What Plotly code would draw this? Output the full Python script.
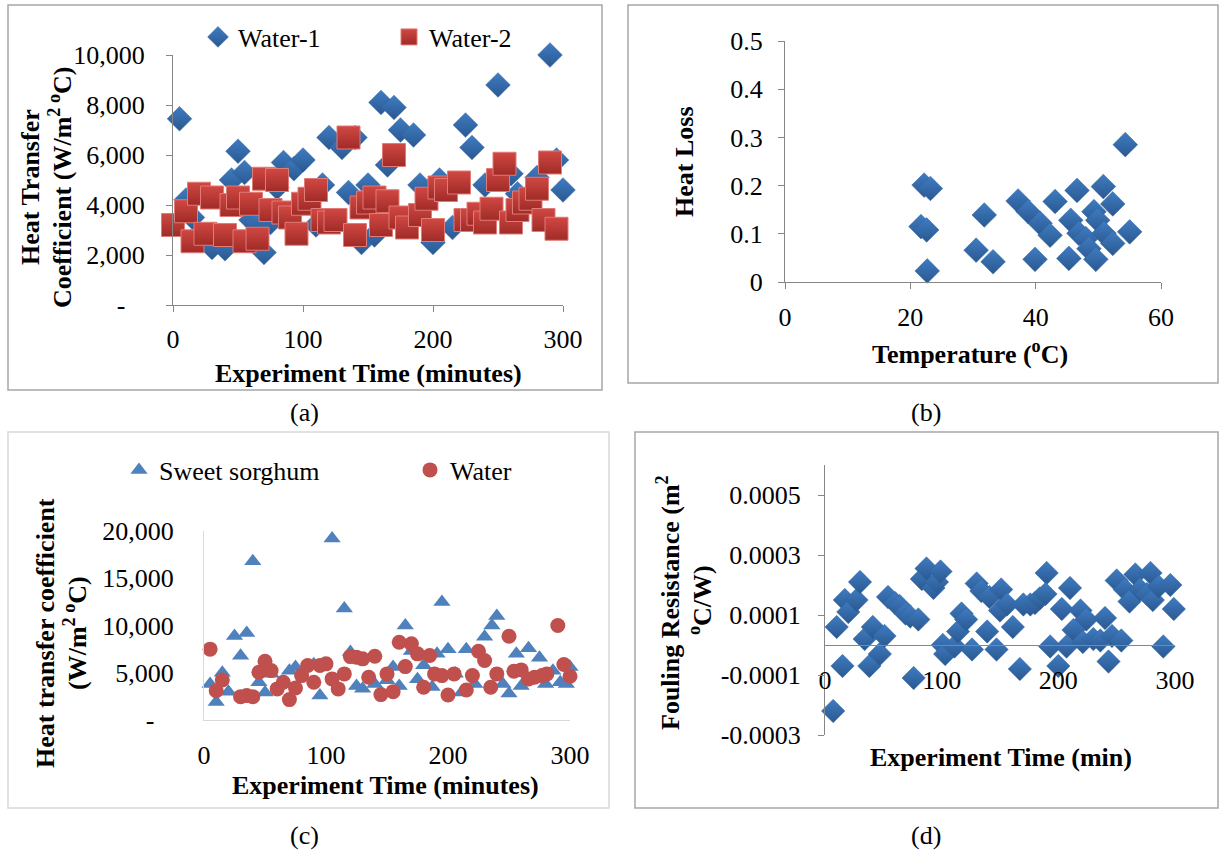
import plotly.graph_objects as go

# ---------------- data ----------------
# (a) heat transfer coefficient vs time
w1_time = [5, 10, 15, 30, 40, 45, 50, 55, 60, 65, 70, 75, 80, 85, 93, 100, 110, 115, 120, 130, 135, 140,
           145, 150, 155, 160, 165, 170, 175, 185, 190, 200, 205, 215, 225, 230, 240, 250, 260, 265, 280,
           290, 295, 300]
w1_htc = [7450, 4200, 3500, 2300, 2250, 5000, 6150, 5300, 3400, 3300, 2100, 3300, 4700, 5700, 5450, 5800,
          3200, 4800, 6700, 6300, 4500, 6700, 2500, 4800, 2800, 8100, 5600, 7900, 7000, 6800, 4800, 2500,
          5000, 3100, 7200, 6300, 4800, 8800, 5250, 4450, 5100, 10000, 5800, 4600]
w2_time = [0, 10, 15, 20, 25, 30, 40, 45, 50, 55, 60, 65, 70, 75, 80, 85, 90, 95, 100, 105, 110, 115, 120,
           125, 135, 140, 145, 150, 155, 160, 165, 170, 175, 180, 190, 195, 200, 205, 210, 220, 225, 230,
           235, 240, 245, 250, 255, 260, 265, 270, 275, 280, 285, 290, 295]
w2_htc = [3200, 3750, 2550, 4450, 2850, 4300, 2800, 4000, 4300, 2550, 4050, 2650, 5050, 3800, 5000, 3700,
          3500, 2850, 4050, 4250, 4600, 3400, 3300, 3400, 6700, 2800, 3900, 4100, 4300, 3200, 4150, 6000,
          3500, 3100, 3600, 4250, 3000, 4700, 4600, 4900, 3400, 3400, 3650, 3300, 3850, 5000, 5650, 3300,
          3800, 4100, 4250, 4650, 3400, 5700, 3050]
a_yticks = [0, 2000, 4000, 6000, 8000, 10000]
a_ytext = ["-\u00a0\u00a0\u00a0", "2,000", "4,000", "6,000", "8,000", "10,000"]
time_ticks = [0, 100, 200, 300]

# (b) heat loss vs temperature
hl_temp = [22.2, 23.2, 21.7, 22.6, 22.7, 31.8, 30.5, 33.2, 37.2, 38.8, 40.7, 42.3, 39.9, 43.1, 46.6, 45.3,
           45.6, 46.9, 48.0, 48.5, 49.3, 49.9, 49.6, 50.8, 52.3, 50.9, 52.3, 55.0, 54.3]
hl_loss = [0.201, 0.194, 0.115, 0.108, 0.023, 0.139, 0.066, 0.042, 0.168, 0.146, 0.122, 0.097, 0.047,
           0.167, 0.190, 0.049, 0.128, 0.101, 0.090, 0.069, 0.146, 0.128, 0.047, 0.198, 0.162, 0.101,
           0.080, 0.104, 0.285]
b_xticks = [0, 20, 40, 60]
b_yticks = [0, 0.1, 0.2, 0.3, 0.4, 0.5]
b_ytext = ["0", "0.1", "0.2", "0.3", "0.4", "0.5"]

# (c) sweet sorghum vs water
ss_time = [5, 10, 15, 20, 25, 30, 35, 40, 45, 50, 55, 70, 75, 90, 95, 105, 115, 120, 125, 130, 140, 150,
           155, 160, 165, 170, 175, 180, 187, 191, 195, 200, 206, 211, 215, 222, 230, 236, 240, 245, 250,
           256, 260, 266, 275, 280, 286, 292, 297, 300]
ss_htc = [3800, 1900, 5000, 3000, 8900, 6800, 9200, 16800, 4000, 2900, 4900, 5200, 5600, 5900, 2600,
          19200, 11800, 7200, 3600, 3300, 3800, 4200, 5600, 3600, 10000, 7300, 4300, 5800, 3500, 7000,
          12500, 7500, 4900, 2900, 7500, 3800, 8800, 10000, 11000, 3800, 2800, 7000, 3600, 7600, 6600,
          3800, 5200, 4000, 3800, 5600]
wc_time = [5, 10, 15, 30, 35, 40, 45, 50, 55, 60, 65, 70, 75, 80, 85, 90, 95, 100, 105, 110, 115, 120,
           125, 130, 135, 140, 145, 150, 155, 160, 165, 170, 175, 180, 185, 189, 195, 200, 205, 215, 220,
           225, 230, 235, 240, 250, 254, 260, 266, 271, 277, 281, 290, 295, 300]
wc_htc = [7500, 3100, 4240, 2470, 2580, 2470, 5050, 6220, 5230, 3290, 3990, 2160, 3390, 4700, 5760, 3990,
          5760, 5940, 4350, 3290, 4880, 6710, 6640, 6470, 4520, 6750, 2690, 4880, 3000, 8230, 5650, 8060,
          7000, 3460, 6820, 4880, 4700, 2650, 4880, 3180, 4700, 7280, 6290, 3460, 4880, 8870, 5160, 5300,
          4350, 4520, 4700, 4880, 10000, 5870, 4630]
c_yticks = [0, 5000, 10000, 15000, 20000]
c_ytext = ["-\u00a0\u00a0\u00a0", "5,000", "10,000", "15,000", "20,000"]

# (d) fouling resistance vs time
fr_time = [7, 10, 15, 17, 20, 27, 30, 34, 38, 41, 47, 51, 54, 60, 64, 69, 73, 80, 76, 83, 87, 93, 96, 99,
           101, 103, 111, 114, 117, 121, 126, 130, 134, 139, 141, 147, 151, 150, 156, 161, 167, 170, 176,
           180, 184, 190, 189, 193, 200, 203, 207, 210, 213, 219, 221, 224, 230, 236, 240, 243, 246, 250,
           254, 257, 261, 266, 270, 276, 279, 281, 286, 290, 296, 299]
fr_res = [-2.2e-4, 0.6e-4, -0.7e-4, 1.5e-4, 1.1e-4, 1.5e-4, 2.1e-4, 0.2e-4, -0.7e-4, 0.6e-4,
          -0.3e-4, 0.3e-4, 1.6e-4, 1.4e-4, 1.3e-4, 1.05e-4, 0.95e-4, 0.85e-4, -1.1e-4, 2.2e-4,
          2.55e-4, 1.9e-4, 2.1e-4, 2.45e-4, 0.0, -0.3e-4, -0.05e-4, 0.45e-4, 1.05e-4, 0.85e-4,
          -0.15e-4, 2.05e-4, 1.8e-4, 0.45e-4, 1.6e-4, -0.15e-4, 1.85e-4, 1.15e-4, 1.35e-4, 0.6e-4,
          -0.8e-4, 1.35e-4, 1.35e-4, 1.4e-4, 1.55e-4, 2.4e-4, 1.7e-4, -0.05e-4, -0.7e-4, 1.2e-4,
          -0.05e-4, 1.9e-4, 0.5e-4, 1.15e-4, 0.1e-4, 0.85e-4, 0.2e-4, 0.15e-4, 0.9e-4, -0.55e-4,
          0.3e-4, 2.15e-4, 0.15e-4, 1.85e-4, 1.45e-4, 2.35e-4, 1.85e-4, 1.7e-4, 2.4e-4, 1.5e-4,
          1.95e-4, -0.05e-4, 2.0e-4, 1.2e-4]
d_yticks = [-0.0003, -0.0001, 0.0001, 0.0003, 0.0005]
d_ytext = ["-0.0003", "-0.0001", "0.0001", "0.0003", "0.0005"]

# ---------------- layout helpers ----------------
W, H = 1220, 852
FONT = "Liberation Serif"


def fx(px):
    return px / W


def fy(py):
    return 1 - py / H


BLUE = "#3f7cc2"
BLUE_DARK = "#2a5890"
RED = "#d14843"
RED_DARK = "#a02b27"

fig = go.Figure()

diamond_a = dict(symbol="diamond", size=19, color=BLUE, line=dict(color="#31649f", width=0.5),
                 gradient=dict(type="vertical", color=BLUE_DARK))
fig.add_trace(go.Scatter(x=w1_time, y=w1_htc, mode="markers", name="Water-1", marker=diamond_a,
                         xaxis="x", yaxis="y", legend="legend", cliponaxis=False))
fig.add_trace(go.Scatter(x=w2_time, y=w2_htc, mode="markers", name="Water-2",
                         marker=dict(symbol="square", size=23, color=RED,
                                     line=dict(color="#e07b76", width=1),
                                     gradient=dict(type="vertical", color=RED_DARK)),
                         xaxis="x", yaxis="y", legend="legend2", cliponaxis=False))
fig.add_trace(go.Scatter(x=hl_temp, y=hl_loss, mode="markers", name="Heat loss", showlegend=False,
                         marker=dict(symbol="diamond", size=19, color=BLUE,
                                     line=dict(color="#31649f", width=0.5),
                                     gradient=dict(type="vertical", color=BLUE_DARK)),
                         xaxis="x2", yaxis="y2", cliponaxis=False))
fig.add_trace(go.Scatter(x=ss_time, y=ss_htc, mode="markers", name="Sweet sorghum",
                         marker=dict(symbol="triangle-up", size=15, color="#4f81bd"),
                         xaxis="x3", yaxis="y3", legend="legend3", cliponaxis=False))
fig.add_trace(go.Scatter(x=wc_time, y=wc_htc, mode="markers", name="Water",
                         marker=dict(symbol="circle", size=15, color="#c0504d"),
                         xaxis="x3", yaxis="y3", legend="legend4", cliponaxis=False))
fig.add_trace(go.Scatter(x=fr_time, y=fr_res, mode="markers", name="Fouling", showlegend=False,
                         marker=dict(symbol="diamond", size=18, color=BLUE,
                                     line=dict(color="#31649f", width=0.5),
                                     gradient=dict(type="vertical", color=BLUE_DARK)),
                         xaxis="x4", yaxis="y4", cliponaxis=False))

tickfont = dict(family=FONT, size=26, color="black")
GREY = "#868686"


def ax(**kw):
    base = dict(showgrid=False, zeroline=False, showline=True, linecolor=GREY, linewidth=1,
                ticks="outside", ticklen=6, tickcolor=GREY, tickfont=tickfont, fixedrange=True,
                automargin=False)
    base.update(kw)
    return base


layout = dict(
    width=W, height=H, margin=dict(l=0, r=0, t=0, b=0, pad=0, autoexpand=False),
    paper_bgcolor="white", plot_bgcolor="rgba(0,0,0,0)",
    font=dict(family=FONT, color="black"),
    xaxis=ax(domain=[fx(173), fx(563)], range=[0, 300], tickvals=time_ticks, anchor="y",
             ticklabelstandoff=5),
    yaxis=ax(domain=[fy(305), fy(55)], range=[0, 10000], tickvals=a_yticks, ticktext=a_ytext,
             anchor="x", ticklabelstandoff=16),
    xaxis2=ax(domain=[fx(785), fx(1161)], range=[0, 60], tickvals=b_xticks, anchor="y2",
              ticklabelstandoff=6),
    yaxis2=ax(domain=[fy(282), fy(41)], range=[0, 0.5], tickvals=b_yticks, ticktext=b_ytext,
              anchor="x2", ticklabelstandoff=10),
    xaxis3=ax(domain=[fx(204), fx(570)], range=[0, 300], tickvals=time_ticks, anchor="y3",
              linecolor="#d9d9d9", ticks="", ticklabelstandoff=12),
    yaxis3=ax(domain=[fy(720), fy(531)], range=[0, 20000], tickvals=c_yticks, ticktext=c_ytext,
              anchor="x3", linecolor="#d9d9d9", ticks="", ticklabelstandoff=24),
    xaxis4=ax(domain=[fx(825), fx(1175)], range=[0, 300], tickvals=time_ticks, anchor="free",
              position=fy(645), ticks="", ticklabelstandoff=12),
    yaxis4=ax(domain=[fy(735), fy(465)], range=[-0.0003, 0.0006], tickvals=d_yticks,
              ticktext=d_ytext, anchor="x4", ticklabelstandoff=12),
)

legend_common = dict(orientation="h", xanchor="left", yanchor="middle", bgcolor="rgba(0,0,0,0)",
                     borderwidth=0, itemwidth=30, font=dict(family=FONT, size=26, color="black"))
layout["legend"] = dict(legend_common, x=fx(198), y=fy(37))
layout["legend2"] = dict(legend_common, x=fx(389), y=fy(37))
layout["legend3"] = dict(legend_common, x=fx(119), y=fy(470))
layout["legend4"] = dict(legend_common, x=fx(410), y=fy(470))

fig.update_layout(**layout)

# panel frames
frames = [((8, 5, 602, 390), "#a6a6a6"), ((628, 5, 1218, 383), "#a6a6a6"),
          ((8, 432, 609, 808), "#d9d9d9"), ((635, 432, 1218, 808), "#a6a6a6")]
for (x0, y0, x1, y1), col in frames:
    fig.add_shape(type="rect", xref="paper", yref="paper", x0=fx(x0), x1=fx(x1), y0=fy(y1), y1=fy(y0),
                  line=dict(color=col, width=1.5), fillcolor="rgba(0,0,0,0)", layer="below")


def note(text, px, py, size=26, angle=0):
    fig.add_annotation(text=text, x=fx(px), y=fy(py), xref="paper", yref="paper", showarrow=False,
                       xanchor="center", yanchor="middle", textangle=angle,
                       font=dict(family=FONT, size=size, color="black"))


# panel labels
note("(a)", 304, 412)
note("(b)", 926, 412)
note("(c)", 304, 835)
note("(d)", 926, 835)

# axis titles
note("<b>Experiment Time (minutes)</b>", 368, 373)
note("<b>Heat Transfer</b>", 30, 187, angle=-90)
note("<b>Coefficient (W/m<sup>2 o</sup>C)</b>", 60, 187, angle=-90)

note("<b>Heat Loss</b>", 685, 162, angle=-90)
note("<b>Temperature (<sup>o</sup>C)</b>", 970, 352)

note("<b>Heat transfer coefficient</b>", 45, 633, angle=-90)
note("<b>(W/m<sup>2 o</sup>C)</b>", 75, 633, angle=-90)
note("<b>Experiment Time (minutes)</b>", 385, 785)

note("<b>Fouling Resistance (m<sup>2</sup></b>", 668, 603, angle=-90)
note("<b><sup>o</sup>C/W)</b>", 700, 600, angle=-90)
note("<b>Experiment Time (min)</b>", 1001, 757)

fig.write_html("out.html", config={"displayModeBar": False},
               post_script="document.body.style.margin='0px';")
